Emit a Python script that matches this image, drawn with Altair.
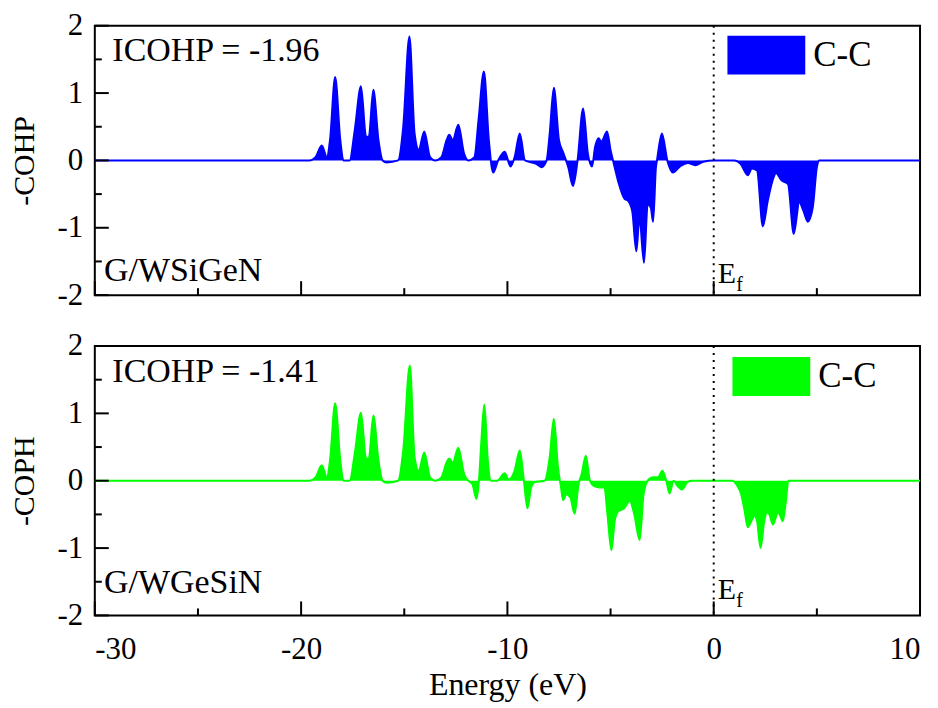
import altair as alt
import pandas as pd

# ---------------- data ----------------
energy_top = [-30, -19.6, -19.3, -19.0, -18.75, -18.6, -18.35, -18.1, -17.95, -17.65,
              -17.4, -17.1, -16.85, -16.72, -16.5, -16.25, -16.05, -15.85, -15.3, -15.05,
              -14.75, -14.5, -14.3, -14.03, -13.75, -13.5, -13.2, -12.95, -12.82, -12.65,
              -12.38, -12.1, -11.9, -11.6, -11.4, -11.14, -10.9, -10.69, -10.45, -10.13,
              -9.85, -9.65, -9.4, -9.15, -8.6, -8.35, -8.1, -7.95, -7.75, -7.5,
              -7.3, -7.05, -6.82, -6.6, -6.33, -6.1, -5.9, -5.75, -5.58, -5.45,
              -5.17, -5.0, -4.88, -4.64, -4.32, -4.15, -3.95, -3.75, -3.6, -3.38,
              -3.2, -3.05, -2.94, -2.8, -2.75, -2.51, -2.25, -1.98, -1.6, -1.25,
              -0.9, -0.5, 0.0, 1.0, 1.3, 1.65, 1.85, 2.1, 2.38, 2.62,
              2.85, 3.02, 3.3, 3.6, 3.88, 4.15, 4.35, 4.56, 4.8, 5.0,
              5.1, 10]
cohp_top = [0, 0, 0.05, 0.22, 0.05, 0.3, 1.24, 0.3, 0.0, 0.0,
            0.45, 1.10, 0.35, 0.35, 1.05, 0.3, 0.0, -0.03, 0.0, 0.5,
            1.84, 0.4, 0.16, 0.43, 0.05, 0.0, 0.05, 0.3, 0.38, 0.3,
            0.53, 0.1, 0.0, 0.05, 0.6, 1.32, 0.3, -0.18, 0.0, 0.13,
            -0.09, 0.05, 0.40, 0.0, -0.05, -0.1, 0.0, 0.4, 1.08, 0.3,
            0.12, -0.1, -0.38, 0.0, 0.77, 0.1, -0.09, 0.2, 0.33, 0.28,
            0.43, 0.15, 0.0, -0.3, -0.57, -0.6, -0.75, -1.35, -0.85, -1.52,
            -0.65, -0.7, -0.91, -0.1, 0.0, 0.40, 0.0, -0.18, -0.08, -0.04,
            -0.07, -0.02, 0.0, 0.0, -0.05, -0.22, -0.12, -0.15, -0.98, -0.6,
            -0.3, -0.19, -0.3, -0.35, -1.09, -0.62, -0.75, -0.91, -0.7, -0.1,
            0.0, 0.0]

energy_bot = [-30, -19.6, -19.3, -19.0, -18.75, -18.6, -18.35, -18.1, -17.95, -17.65,
              -17.4, -17.1, -16.85, -16.72, -16.5, -16.25, -16.05, -15.85, -15.3, -15.05,
              -14.73, -14.5, -14.3, -14.03, -13.75, -13.5, -13.2, -12.95, -12.82, -12.65,
              -12.38, -12.1, -11.9, -11.7, -11.5, -11.38, -11.28, -11.12, -10.95, -10.8,
              -10.5, -10.13, -9.95, -9.85, -9.65, -9.4, -9.2, -9.03, -8.85, -8.67,
              -8.2, -7.95, -7.75, -7.55, -7.4, -7.3, -7.15, -6.95, -6.74, -6.55,
              -6.4, -6.2, -6.0, -5.8, -5.53, -5.3, -5.15, -4.96, -4.8, -4.64,
              -4.35, -4.07, -3.85, -3.59, -3.4, -3.2, -2.94, -2.7, -2.49, -2.3,
              -2.14, -1.95, -1.75, -1.54, -1.3, -1.1, 0.9, 1.15, 1.33, 1.5,
              1.65, 1.82, 1.98, 2.1, 2.27, 2.45, 2.58, 2.7, 2.87, 3.0,
              3.1, 3.2, 3.35, 3.5, 3.62, 10]
coph_bot = [0, 0, 0.05, 0.23, 0.05, 0.3, 1.15, 0.3, 0.0, 0.0,
            0.4, 1.01, 0.33, 0.33, 0.97, 0.3, 0.0, -0.03, 0.0, 0.45,
            1.71, 0.35, 0.15, 0.42, 0.05, 0.0, 0.05, 0.27, 0.33, 0.27,
            0.49, 0.1, 0.0, -0.05, -0.27, 0.0, 0.5, 1.13, 0.3, 0.0,
            0.0, 0.11, 0.02, 0.03, 0.15, 0.45, 0.0, -0.41, -0.1, -0.02,
            0.0, 0.35, 0.92, 0.2, -0.1, -0.29, -0.2, -0.25, -0.49, -0.05,
            0.1, 0.37, 0.0, -0.08, -0.1, -0.1, -0.5, -1.03, -0.6, -0.46,
            -0.41, -0.3, -0.5, -0.88, -0.2, 0.0, 0.05, 0.05, 0.15, 0.0,
            -0.19, 0.0, -0.08, -0.13, -0.03, 0.0, 0.0, -0.08, -0.2, -0.45,
            -0.69, -0.6, -0.52, -0.6, -1.0, -0.6, -0.47, -0.5, -0.65, -0.55,
            -0.47, -0.5, -0.6, -0.3, 0.0, 0.0]

x_major = [-30, -20, -10, 0, 10]
x_minor = [-25, -15, -5, 5]
y_major = [-2, -1, 0, 1, 2]
y_minor = [-1.5, -0.5, 0.5, 1.5]

W, H = 827, 270
FONT = "Liberation Serif, Times New Roman, serif"
XS = alt.Scale(domain=[-30, 10], nice=False, zero=False)
YS = alt.Scale(domain=[-2, 2], nice=False)


def panel(energy, vals, color, ytitle, icohp, system, sys_y, ef_y, show_x, lx, ly):
    xtitle = "Energy (eV)" if show_x else None
    df = pd.DataFrame({"E": energy, "v": vals, "series": ["C-C"] * len(energy)})
    xaxis = alt.Axis(values=x_major, ticks=False, domain=False, grid=False,
                     labels=show_x, labelExpr="'' + datum.value",
                     labelFont=FONT, labelFontSize=31, labelColor="black",
                     labelPadding=19, titleFont=FONT, titleFontSize=32,
                     titleFontWeight="normal", titleColor="black", titlePadding=5)
    yaxis = alt.Axis(values=y_major, ticks=False, domain=False, grid=False,
                     labelExpr="'' + datum.value",
                     labelFont=FONT, labelFontSize=31, labelColor="black",
                     labelPadding=12, titleFont=FONT, titleFontSize=30,
                     titleFontWeight="normal", titleColor="black", titlePadding=18)

    def X(field):
        return alt.X(field, scale=XS, title=xtitle)

    def Y(field):
        return alt.Y(field, scale=YS, title=ytitle)

    base = alt.Chart(df)
    area = base.mark_area(interpolate="monotone", opacity=1).encode(
        x=alt.X("E:Q", scale=XS, axis=xaxis, title=xtitle),
        y=alt.Y("v:Q", scale=YS, axis=yaxis, title=ytitle, stack=None),
        color=alt.Color("series:N",
                        scale=alt.Scale(domain=["C-C"], range=[color]),
                        legend=alt.Legend(orient="none", legendX=lx, legendY=ly,
                                          title=None, padding=0,
                                          symbolType="M-1,-0.5L1,-0.5L1,0.5L-1,0.5Z",
                                          symbolSize=6084, symbolStrokeWidth=0,
                                          symbolOpacity=1, labelOffset=8,
                                          labelFont=FONT, labelFontSize=35,
                                          labelColor="black")),
    )
    line = base.mark_line(interpolate="monotone", color=color, strokeWidth=2).encode(
        x=X("E:Q"), y=Y("v:Q"))
    ef_rule = alt.Chart(pd.DataFrame({"x": [0]})).mark_rule(
        color="black", strokeWidth=2, strokeDash=[2, 5]).encode(x=X("x:Q"))

    def txt(x, y, t, size, baseline="middle"):
        return alt.Chart(pd.DataFrame({"x": [x], "y": [y], "t": [t]})).mark_text(
            align="left", baseline=baseline, font=FONT, fontSize=size, color="black").encode(
            x=X("x:Q"), y=Y("y:Q"), text="t:N")

    t1 = txt(-29.15, 1.62, "ICOHP = -" + icohp, 34)
    t2 = txt(-29.55, sys_y, system, 34, baseline="alphabetic")
    t3 = txt(0.2, ef_y, "E", 30, baseline="alphabetic")
    t4 = txt(1.09, ef_y - 0.12, "f", 20, baseline="alphabetic")

    def xticks(vals_, size):
        return alt.Chart(pd.DataFrame({"t": vals_})).mark_rule(color="black", strokeWidth=2).encode(
            x=X("t:Q"), y=alt.value(H), y2=alt.value(H - size))

    def yticks(vals_, size):
        return alt.Chart(pd.DataFrame({"t": vals_})).mark_rule(color="black", strokeWidth=2).encode(
            y=Y("t:Q"), x=alt.value(0), x2=alt.value(size))

    return alt.layer(area, line, ef_rule, t1, t2, t3, t4,
                     xticks(x_major, 14), xticks(x_minor, 7),
                     yticks(y_major, 14), yticks(y_minor, 7)).properties(width=W, height=H)


top = panel(energy_top, cohp_top, "#0000FF", "-COHP", "1.96", "G/WSiGeN", -1.79, -1.82, False, 634, -9.5)
bot = panel(energy_bot, coph_bot, "#00FF00", "-COPH", "1.41", "G/WGeSiN", -1.67, -1.75, True, 639, -8.5)

chart = alt.vconcat(top, bot, spacing=18).resolve_scale(color="independent").configure_view(
    stroke="black", strokeWidth=2).properties(
    background="white", padding={"left": 0, "top": 0, "right": 5, "bottom": 0})

chart.save("out.html", embed_options={"renderer": "svg", "actions": False})
